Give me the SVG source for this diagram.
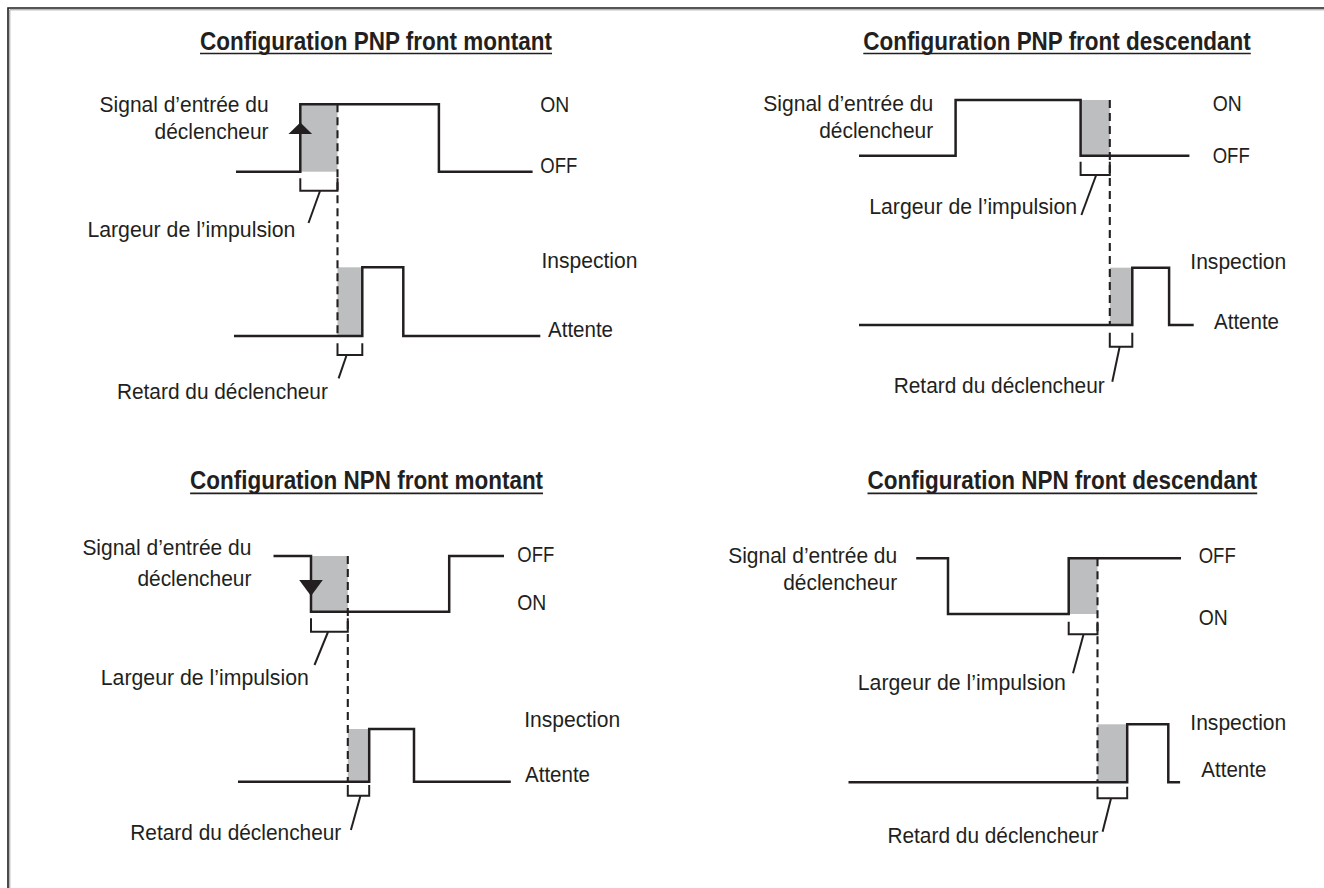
<svg xmlns="http://www.w3.org/2000/svg" width="1324" height="888" viewBox="0 0 1324 888">
<style>
  .bg { fill: #ffffff; }
  .frame { fill: none; stroke: #1e1e1e; stroke-width: 1.6; }
  .frame2 { fill: none; stroke: #9a9a9a; stroke-width: 1; }
  .title { font-family: "Liberation Sans", Arial, sans-serif; font-weight: bold; font-size: 25px; fill: #231f20; }
  .ul { stroke: #231f20; stroke-width: 1.7; }
  .lbl { font-family: "Liberation Sans", Arial, sans-serif; font-size: 22px; fill: #231f20; }
  .wave { fill: none; stroke: #231f20; stroke-width: 2.5; stroke-linejoin: miter; }
  .shade { fill: #bcbec0; stroke: none; }
  .dash { fill: none; stroke: #231f20; stroke-width: 2.1; stroke-dasharray: 8 5; }
  .brk { fill: none; stroke: #231f20; stroke-width: 2; }
  .lead { fill: none; stroke: #231f20; stroke-width: 2; }
  .arrow { fill: #231f20; }
</style>
<rect class="bg" x="0" y="0" width="1324" height="888"/>
<path class="frame" d="M8,888 V8 H1324"/>
<path class="frame2" d="M9.8,888 V9.8 H1324"/>

<g id="pnp-rising">
  <text class="title" x="376" y="49.5" text-anchor="middle" textLength="352" lengthAdjust="spacingAndGlyphs">Configuration PNP front montant</text>
  <line class="ul" x1="200" y1="53.5" x2="552" y2="53.5"/>
  <g id="pnp-rising-input">
    <rect class="shade" x="300.3" y="104.3" width="37.2" height="67.4"/>
    <path class="wave" d="M236,171.7 H300.3 V104.3 H438.9 V171.7 H532.6"/>
    <polygon class="arrow" points="300.3,122.5 288.5,134 312.1,134"/>
    <text class="lbl" x="268.6" y="111.7" text-anchor="end" textLength="169" lengthAdjust="spacingAndGlyphs">Signal d’entrée du</text>
    <text class="lbl" x="268.6" y="139.3" text-anchor="end" textLength="114" lengthAdjust="spacingAndGlyphs">déclencheur</text>
    <text class="lbl" x="540.3" y="111.7" textLength="29" lengthAdjust="spacingAndGlyphs">ON</text>
    <text class="lbl" x="540.3" y="173.3" textLength="37" lengthAdjust="spacingAndGlyphs">OFF</text>
    <path class="brk" d="M300.3,178.3 V190.7 H337.5 V178.3"/>
    <text class="lbl" x="295.4" y="236.5" text-anchor="end" textLength="208" lengthAdjust="spacingAndGlyphs">Largeur de l’impulsion</text>
  </g>
  <g id="pnp-rising-inspection">
    <rect class="shade" x="337.5" y="267.3" width="24.8" height="68.7"/>
    <path class="wave" d="M234,336 H362.3 V267.3 H403.3 V336 H540.3"/>
    <text class="lbl" x="541.4" y="268.3" textLength="96" lengthAdjust="spacingAndGlyphs">Inspection</text>
    <text class="lbl" x="548" y="336.7" textLength="65" lengthAdjust="spacingAndGlyphs">Attente</text>
    <path class="brk" d="M337.5,343.3 V355 H362.3 V343.3"/>
    <text class="lbl" x="327.9" y="399.3" text-anchor="end" textLength="211" lengthAdjust="spacingAndGlyphs">Retard du déclencheur</text>
  </g>
</g>

<g id="pnp-falling">
  <text class="title" x="1057" y="49.5" text-anchor="middle" textLength="387.5" lengthAdjust="spacingAndGlyphs">Configuration PNP front descendant</text>
  <line class="ul" x1="863.3" y1="53.5" x2="1250.8" y2="53.5"/>
  <g id="pnp-falling-input">
    <rect class="shade" x="1080.6" y="100" width="29.2" height="55.7"/>
    <path class="wave" d="M859,155.7 H955.6 V100 H1080.6 V155.7 H1189.4"/>
    <text class="lbl" x="933.2" y="110.5" text-anchor="end" textLength="170" lengthAdjust="spacingAndGlyphs">Signal d’entrée du</text>
    <text class="lbl" x="933.2" y="138" text-anchor="end" textLength="114" lengthAdjust="spacingAndGlyphs">déclencheur</text>
    <text class="lbl" x="1212.7" y="110.5" textLength="29" lengthAdjust="spacingAndGlyphs">ON</text>
    <text class="lbl" x="1212.7" y="163.3" textLength="37" lengthAdjust="spacingAndGlyphs">OFF</text>
    <path class="brk" d="M1080.6,161.7 V175 H1109.8 V161.7"/>
    <text class="lbl" x="1077.2" y="214" text-anchor="end" textLength="208" lengthAdjust="spacingAndGlyphs">Largeur de l’impulsion</text>
  </g>
  <g id="pnp-falling-inspection">
    <rect class="shade" x="1109.8" y="267.7" width="22.5" height="57.3"/>
    <path class="wave" d="M859,325 H1132.3 V267.7 H1169.1 V325 H1193.7"/>
    <text class="lbl" x="1190.3" y="269.3" textLength="96" lengthAdjust="spacingAndGlyphs">Inspection</text>
    <text class="lbl" x="1214" y="329.3" textLength="65" lengthAdjust="spacingAndGlyphs">Attente</text>
    <path class="brk" d="M1109.8,332.7 V346.7 H1132.3 V332.7"/>
    <text class="lbl" x="1104.7" y="392.7" text-anchor="end" textLength="211" lengthAdjust="spacingAndGlyphs">Retard du déclencheur</text>
  </g>
</g>

<g id="npn-rising">
  <text class="title" x="366.6" y="489.3" text-anchor="middle" textLength="353" lengthAdjust="spacingAndGlyphs">Configuration NPN front montant</text>
  <line class="ul" x1="190.1" y1="493.3" x2="543" y2="493.3"/>
  <g id="npn-rising-input">
    <rect class="shade" x="311" y="556" width="36.8" height="55.7"/>
    <path class="wave" d="M273.5,556 H311 V611.7 H449.2 V556 H504"/>
    <polygon class="arrow" points="299.2,580 322.8,580 311,596"/>
    <text class="lbl" x="251.4" y="555" text-anchor="end" textLength="169" lengthAdjust="spacingAndGlyphs">Signal d’entrée du</text>
    <text class="lbl" x="251.4" y="586" text-anchor="end" textLength="114" lengthAdjust="spacingAndGlyphs">déclencheur</text>
    <text class="lbl" x="517.3" y="561.7" textLength="37" lengthAdjust="spacingAndGlyphs">OFF</text>
    <text class="lbl" x="517.3" y="610" textLength="29" lengthAdjust="spacingAndGlyphs">ON</text>
    <path class="brk" d="M311,618.3 V631.7 H347.8 V618.3"/>
    <text class="lbl" x="308.8" y="685" text-anchor="end" textLength="208" lengthAdjust="spacingAndGlyphs">Largeur de l’impulsion</text>
  </g>
  <g id="npn-rising-inspection">
    <rect class="shade" x="347.8" y="729" width="21.4" height="52.7"/>
    <path class="wave" d="M238,781.7 H369.2 V729 H414 V781.7 H510.8"/>
    <text class="lbl" x="524.2" y="727.3" textLength="96" lengthAdjust="spacingAndGlyphs">Inspection</text>
    <text class="lbl" x="525" y="781.7" textLength="65" lengthAdjust="spacingAndGlyphs">Attente</text>
    <path class="brk" d="M347.8,785 V795.7 H369.2 V785"/>
    <text class="lbl" x="341.3" y="840" text-anchor="end" textLength="211" lengthAdjust="spacingAndGlyphs">Retard du déclencheur</text>
  </g>
</g>

<g id="npn-falling">
  <text class="title" x="1062.4" y="489.3" text-anchor="middle" textLength="389.7" lengthAdjust="spacingAndGlyphs">Configuration NPN front descendant</text>
  <line class="ul" x1="867.5" y1="493.3" x2="1257.2" y2="493.3"/>
  <g id="npn-falling-input">
    <rect class="shade" x="1068.7" y="558.3" width="28.8" height="55.7"/>
    <path class="wave" d="M916.2,558.3 H948 V614 H1068.7 V558.3 H1181"/>
    <text class="lbl" x="897.2" y="563" text-anchor="end" textLength="169" lengthAdjust="spacingAndGlyphs">Signal d’entrée du</text>
    <text class="lbl" x="897.2" y="590" text-anchor="end" textLength="114" lengthAdjust="spacingAndGlyphs">déclencheur</text>
    <text class="lbl" x="1198.7" y="562.7" textLength="37" lengthAdjust="spacingAndGlyphs">OFF</text>
    <text class="lbl" x="1198.7" y="625" textLength="29" lengthAdjust="spacingAndGlyphs">ON</text>
    <path class="brk" d="M1068.7,621.7 V634.3 H1097.5 V621.7"/>
    <text class="lbl" x="1065.8" y="690" text-anchor="end" textLength="208" lengthAdjust="spacingAndGlyphs">Largeur de l’impulsion</text>
  </g>
  <g id="npn-falling-inspection">
    <rect class="shade" x="1097.5" y="724.3" width="29.7" height="58"/>
    <path class="wave" d="M848.5,782.3 H1127.2 V724.3 H1168.3 V782.3 H1180.1"/>
    <text class="lbl" x="1190.3" y="730" textLength="96" lengthAdjust="spacingAndGlyphs">Inspection</text>
    <text class="lbl" x="1201.3" y="777.3" textLength="65" lengthAdjust="spacingAndGlyphs">Attente</text>
    <path class="brk" d="M1097.5,786.7 V798.3 H1127.2 V786.7"/>
    <text class="lbl" x="1098.4" y="843" text-anchor="end" textLength="211" lengthAdjust="spacingAndGlyphs">Retard du déclencheur</text>
  </g>
</g>

<g id="connectors">
  <line class="dash" x1="337.5" y1="104.3" x2="337.5" y2="336"/>
  <line class="dash" x1="1109.8" y1="100" x2="1109.8" y2="325"/>
  <line class="dash" x1="347.8" y1="556" x2="347.8" y2="781.7"/>
  <line class="dash" x1="1097.5" y1="558.3" x2="1097.5" y2="782.3"/>
  <line class="lead" x1="320" y1="191" x2="308.5" y2="223"/>
  <line class="lead" x1="346.3" y1="356" x2="338.6" y2="378.3"/>
  <line class="lead" x1="1096" y1="175.5" x2="1081.4" y2="215"/>
  <line class="lead" x1="1119.6" y1="347" x2="1112.3" y2="381.7"/>
  <line class="lead" x1="328" y1="632" x2="314.5" y2="665"/>
  <line class="lead" x1="360.4" y1="796" x2="350.9" y2="830"/>
  <line class="lead" x1="1083.5" y1="634.5" x2="1073" y2="673.3"/>
  <line class="lead" x1="1111" y1="798.5" x2="1102.6" y2="831.7"/>
</g>
</svg>
